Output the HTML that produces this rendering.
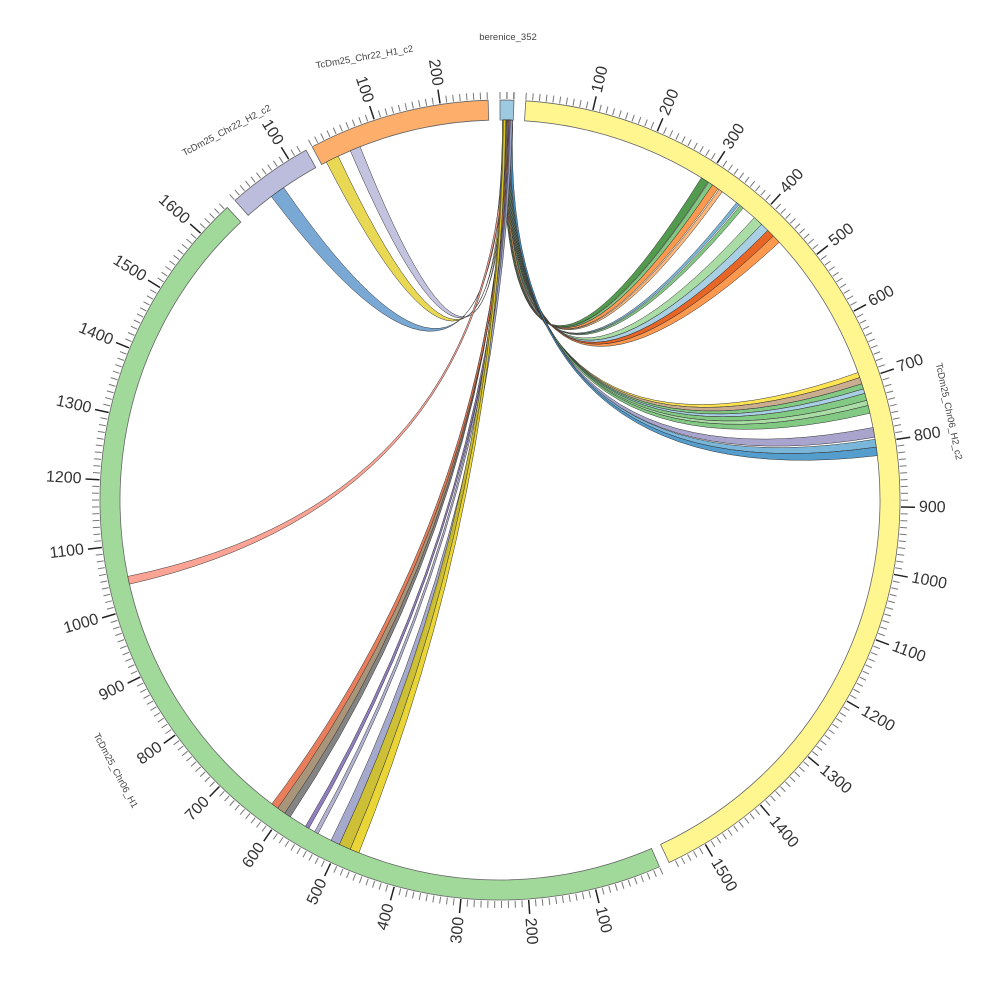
<!DOCTYPE html>
<html><head><meta charset="utf-8"><style>
html,body{margin:0;padding:0;background:#fff;}
svg{display:block;font-family:"Liberation Sans","DejaVu Sans",sans-serif;}
</style></head><body>
<svg id="s" width="1000" height="1000" viewBox="0 0 1000 1000" xmlns="http://www.w3.org/2000/svg"></svg>
<script>
const S=document.getElementById('s');
const cx=500,cy=500,R0=380,R1=400,k=0.097;
function P(a,r){const t=a*Math.PI/180;return [cx+r*Math.sin(t),cy-r*Math.cos(t)];}
function f(p){return p[0].toFixed(2)+','+p[1].toFixed(2);}
let h='';
const segs=[
 {a:0,b:2,c:'#9ecae1',n:0},
 {a:3.7,b:155,c:'#fff68f',n:1},
 {a:156.5,b:317,c:'#a1d99b',n:1},
 {a:318.5,b:331,c:'#bcbddc',n:1},
 {a:332,b:358.3,c:'#fdae6b',n:1}
];
function arcSeg(a,b,r0,r1){
 const l=(b-a)>180?1:0;
 return 'M'+f(P(a,r1))+' A'+r1+','+r1+' 0 '+l+' 1 '+f(P(b,r1))+' L'+f(P(b,r0))+' A'+r0+','+r0+' 0 '+l+' 0 '+f(P(a,r0))+' Z';
}
// ticks
for(const s of segs){
 h+='<path d="'+arcSeg(s.a,s.b,R0,R1)+'" fill="'+s.c+'" stroke="#666" stroke-width="0.8"/>';
 for(let u=0;;u+=10){
  const a=s.a+u*k; if(a>s.b+0.01)break;
  const maj=u%100==0&&u>0;
  const p1=P(a,R1+1),p2=P(a,R1+(maj?15:8));
  h+='<line x1="'+p1[0].toFixed(2)+'" y1="'+p1[1].toFixed(2)+'" x2="'+p2[0].toFixed(2)+'" y2="'+p2[1].toFixed(2)+'" stroke="'+(maj?'#222':'#777')+'" stroke-width="'+(maj?1.5:1)+'"/>';
  if(maj){
   const q=P(a,R1+19);
   let rot,anc;
   if(a<180){rot=a-90;anc='start';}else{rot=a+90;anc='end';}
   h+='<text x="'+q[0].toFixed(2)+'" y="'+q[1].toFixed(2)+'" font-size="16" fill="#333" text-anchor="'+anc+'" dominant-baseline="central" transform="rotate('+rot.toFixed(2)+' '+q[0].toFixed(2)+' '+q[1].toFixed(2)+')">'+u+'</text>';
  }
 }
}
// berenice small ticks
for(let a=0;a<=2;a+=1){const p1=P(a,R1+1),p2=P(a,R1+8);h+='<line x1="'+p1[0]+'" y1="'+p1[1]+'" x2="'+p2[0]+'" y2="'+p2[1]+'" stroke="#777"/>';}
// links
const links=[
 [32.0,33.2,'#3f8f3a'],[33.3,34.0,'#74c476'],[34.0,35.0,'#fd8d3c'],[35.2,35.8,'#fdae6b'],
 [38.5,39.0,'#6baed6'],[39.2,39.8,'#74c476'],[42.0,43.5,'#a1d99b'],[43.5,44.8,'#9ecae1'],[44.8,46.0,'#e6550d'],[46.0,47.3,'#fd8d3c'],
 [70.4,71.2,'#fee040'],[71.2,72.2,'#c4a484'],[72.2,73.0,'#74c476'],[73.0,73.7,'#9ecae1'],[73.7,74.8,'#74c476'],[74.8,75.6,'#a1d99b'],[75.6,76.8,'#74c476'],
 [79.0,80.5,'#9e9ac8'],[80.8,82.0,'#6baed6'],[82.0,83.3,'#4292c6'],
 [323.0,325.3,'#6a9fcf'],[332.8,334.8,'#e7d441'],[336.8,338.4,'#bcbddc'],
 [257.2,258.4,'#fb9a8a'],
 [213.5,214.5,'#777777'],[214.5,215.8,'#a08a6a'],[215.8,216.9,'#e6704a'],
 [210.2,210.8,'#8470b8'],[208.6,209.2,'#aaaacc'],
 [205.0,206.4,'#9aa0c8'],[203.2,205.0,'#c8b820'],[201.8,203.2,'#e7d020']
];
let i=0;
for(const L of links){
 const s1=0.4+ (i%10)*0.13, s2=s1+0.35; i++;
 const A1=P(s1,R0),A2=P(s2,R0),B1=P(L[0],R0),B2=P(L[1],R0);
 const lb=(L[1]-L[0])>180?1:0;
 const d='M'+f(A1)+' A'+R0+','+R0+' 0 0 1 '+f(A2)+' Q'+cx+','+cy+' '+f(B1)+' A'+R0+','+R0+' 0 0 1 '+f(B2)+' Q'+cx+','+cy+' '+f(A1)+' Z';
 h+='<path d="'+d+'" fill="'+L[2]+'" fill-opacity="0.9" stroke="#333" stroke-width="0.5"/>';
}
// segment names
function lab(x,y,r,t){h+='<text x="'+x+'" y="'+y+'" font-size="9.5" fill="#444" text-anchor="middle" transform="rotate('+r+' '+x+' '+y+')">'+t+'</text>';}
lab(508,40,0,'berenice_352');
lab(365,60,-10,'TcDm25_Chr22_H1_c2');
lab(228,133,-28,'TcDm25_Chr22_H2_c2');
lab(946,412,78,'TcDm25_Chr06_H2_c2');
lab(113,772,62,'TcDm25_Chr06_H1');
S.innerHTML=h;
</script>
</body></html>
